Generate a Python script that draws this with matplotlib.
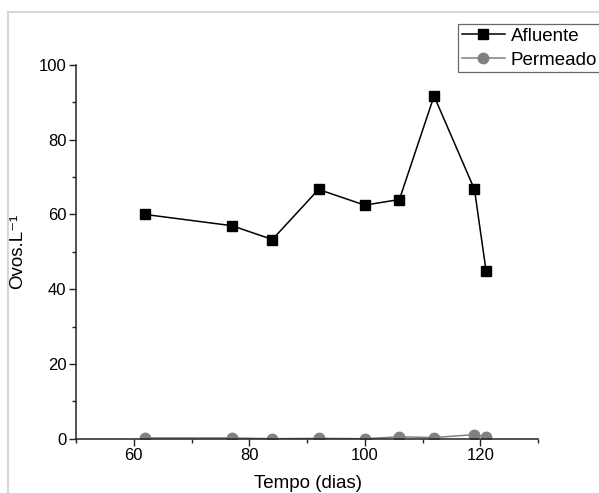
import matplotlib.pyplot as plt
from matplotlib.lines import Line2D
from matplotlib.ticker import MultipleLocator

plt.rcParams['font.family'] = ['Liberation Sans', 'DejaVu Sans']

# days of sampling
dias = [62, 77, 84, 92, 100, 106, 112, 119, 121]
afluente = [60.0, 57.0, 53.3, 66.7, 62.5, 64.0, 91.7, 66.7, 45.0]
permeado = [0.2, 0.2, 0.0, 0.1, 0.0, 0.5, 0.3, 1.1, 0.5]

W, H = 599, 493
fig = plt.figure(figsize=(W / 100, H / 100), dpi=100)
ax = fig.add_axes([76 / W, 1 - 438.7 / H, 462 / W, 373.7 / H])

ax.plot(dias, afluente, color='black', lw=1.1, marker='s', ms=7, label='Afluente')
ax.plot(dias, permeado, color='#808080', lw=1.1, marker='o', ms=7.5, label='Permeado')

ax.set_xlim(50, 130)
ax.set_ylim(0, 100)
ax.xaxis.set_major_locator(MultipleLocator(20))
ax.xaxis.set_minor_locator(MultipleLocator(10))
ax.yaxis.set_major_locator(MultipleLocator(20))
ax.yaxis.set_minor_locator(MultipleLocator(10))

for s in ['top', 'right']:
    ax.spines[s].set_visible(False)
for s in ['left', 'bottom']:
    ax.spines[s].set_linewidth(1.1)
    ax.spines[s].set_color('#222222')
ax.tick_params(which='major', direction='out', length=5, width=1.0, color='#222222',
               labelsize=12, pad=2)
ax.tick_params(which='minor', direction='out', length=3, width=1.0, color='#222222')

ax.set_xlabel('Tempo (dias)', fontsize=13.5)
ax.set_ylabel('Ovos.L\u207b\u00b9', fontsize=13.5)
ax.xaxis.set_label_coords(0.502, -0.098)
ax.yaxis.set_label_coords(-0.108, 0.5)

leg = ax.legend(loc='upper left', bbox_to_anchor=(458 / W, 1 - 24 / H),
                bbox_transform=fig.transFigure, fontsize=13.5, frameon=True,
                fancybox=False, borderpad=0.2, handlelength=2.3, handletextpad=0.3,
                labelspacing=0.35, borderaxespad=0)
leg.get_frame().set_edgecolor('#444444')
leg.get_frame().set_linewidth(0.9)

# light grey frame around the picture
fig.add_artist(Line2D([8 / W, 1], [1 - 12 / H, 1 - 12 / H], color='#d8d8d8', lw=1.5))
fig.add_artist(Line2D([8 / W, 8 / W], [0, 1 - 12 / H], color='#d8d8d8', lw=1.5))

fig.savefig('out.png', dpi=100)
